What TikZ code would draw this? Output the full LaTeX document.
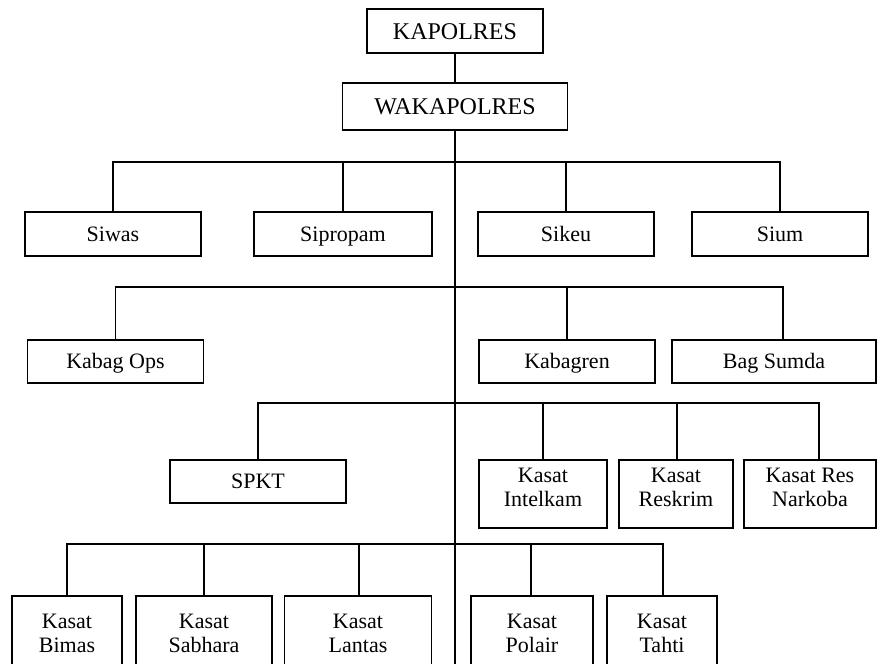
\documentclass[tikz,border=0pt]{standalone}
\usepackage{fontspec}
\setmainfont{Liberation Serif}
\tikzset{
  basebox/.style={
    draw, line width=1.6pt,
    inner sep=2pt,
    align=center,
    minimum width=176pt,
    font=\fontsize{22}{24}\selectfont
  },
  unitbox/.style={
    basebox,
    minimum height=44pt,
    text height=16pt,
    text depth=2pt
  },
  kasatbox/.style={
    basebox,
    minimum height=68pt,
    text height=44pt,
    text depth=20pt
  },
  lowbox/.style={
    basebox,
    minimum height=80pt,
    text height=54pt,
    text depth=22pt
  },
  link/.style={
    line width=1.6pt,
    draw=black
  }
}

\begin{document}
\begin{tikzpicture}[x=1pt, y=-1pt]
  \useasboundingbox (0,0) rectangle (879,664);
  \clip (0,0) rectangle (879,664);

  % pimpinan
  \node[unitbox, font=\fontsize{24}{26}\selectfont, text height=18pt] (kapolres) at (455,31) {KAPOLRES};
  \node[unitbox, font=\fontsize{24}{26}\selectfont, text height=18pt, minimum width=225pt, minimum height=47pt] (wakapolres) at (455,106.5) {WAKAPOLRES};

  % unsur pengawas dan pembantu
  \node[unitbox] (siwas) at (113,234) {Siwas};
  \node[unitbox, minimum width=178pt] (sipropam) at (343,234) {Sipropam};
  \node[unitbox] (sikeu) at (566,234) {Sikeu};
  \node[unitbox] (sium) at (780,234) {Sium};

  \node[unitbox, minimum height=43pt] (kabagops) at (115.5,361.5) {Kabag Ops};
  \node[unitbox, minimum height=43pt] (kabagren) at (567,361.5) {Kabagren};
  \node[unitbox, minimum width=204pt, minimum height=43pt] (bagsumda) at (774,361.5) {Bag Sumda};

  % unsur pelaksana
  \node[unitbox, minimum height=43pt] (spkt) at (258,481.5) {SPKT};
  \node[kasatbox, minimum width=128pt] (intelkam) at (543,494) {Kasat\\Intelkam};
  \node[kasatbox, minimum width=114pt] (reskrim) at (676,494) {Kasat\\Reskrim};
  \node[kasatbox, minimum width=132pt] (narkoba) at (810,494) {Kasat Res\\Narkoba};

  \node[lowbox, minimum width=110pt] (bimas) at (67,636) {Kasat\\Bimas};
  \node[lowbox, minimum width=136pt] (sabhara) at (204,636) {Kasat\\Sabhara};
  \node[lowbox, minimum width=147pt] (lantas) at (358,636) {Kasat\\Lantas};
  \node[lowbox, minimum width=122pt] (polair) at (532,636) {Kasat\\Polair};
  \node[lowbox, minimum width=110pt] (tahti) at (662,636) {Kasat\\Tahti};

  % garis komando
  \coordinate (ujung) at (455,664);
  \coordinate (bus1) at (455,162);
  \coordinate (bus2) at (455,287);
  \coordinate (bus3) at (455,403);
  \coordinate (bus4) at (455,544);

  \draw[link] (kapolres.south) -- (wakapolres.north);
  \draw[link] (wakapolres.south) -- (ujung);

  \draw[link] (siwas.north) |- (bus1) -| (sium.north);
  \draw[link] (sipropam.north) -- (sipropam.north |- bus1);
  \draw[link] (sikeu.north) -- (sikeu.north |- bus1);

  \draw[link] (kabagops.north) |- (bus2) -| ([xshift=9pt]bagsumda.north);
  \draw[link] (kabagren.north) -- (kabagren.north |- bus2);

  \draw[link] (spkt.north) |- (bus3) -| ([xshift=9pt]narkoba.north);
  \draw[link] (intelkam.north) -- (intelkam.north |- bus3);
  \draw[link] ([xshift=1pt]reskrim.north) -- ([xshift=1pt]reskrim.north |- bus3);

  \draw[link] (bimas.north) |- (bus4) -| ([xshift=1pt]tahti.north);
  \draw[link] (sabhara.north) -- (sabhara.north |- bus4);
  \draw[link] ([xshift=1pt]lantas.north) -- ([xshift=1pt]lantas.north |- bus4);
  \draw[link] ([xshift=-1pt]polair.north) -- ([xshift=-1pt]polair.north |- bus4);
\end{tikzpicture}
\end{document}
